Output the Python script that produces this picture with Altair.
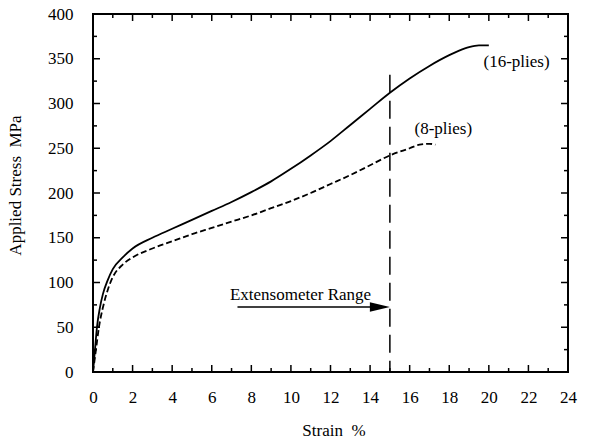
import altair as alt
import pandas as pd

# Tensile curves: strain (%) vs applied stress (MPa)
strain_16 = [0, 0.1, 0.2, 0.35, 0.5, 0.75, 1.0, 1.5, 2, 3, 4, 5, 6, 7, 8, 9, 10,
             11, 12, 13, 14, 15, 16, 17, 18, 18.5, 19, 19.5, 20]
stress_16 = [0, 25, 50, 72, 87, 103, 115, 128, 138, 150, 160, 170, 180, 190, 201,
             213, 227, 242, 258, 276, 294, 312, 328, 342, 354, 359, 363, 365, 365]

strain_8 = [0, 0.15, 0.3, 0.5, 0.75, 1.0, 1.5, 2, 3, 4, 5, 6, 7, 8, 9, 10, 11,
            12, 13, 14, 15, 16, 16.5, 17, 17.3]
stress_8 = [0, 25, 50, 72, 92, 106, 120, 128, 138, 146, 154, 161, 168, 175, 183,
            191, 200, 210, 220, 231, 242, 250, 254, 255, 254]

# Axis ticks
x_major = list(range(0, 25, 2))
x_minor = list(range(1, 24, 2))
y_major = list(range(0, 401, 50))
y_minor = list(range(25, 400, 50))

# Extensometer limit and annotation text
ext_limit = 15
ext_top = 332
arrow_start = 7.3
arrow_level = 72.6
notes_text = ["(16-plies)", "(8-plies)", "Extensometer Range"]
notes_x = [21.4, 17.7, 6.92]
notes_y = [341, 266, 80]
notes_align = ["center", "center", "left"]

FONT = "Liberation Serif"
W, H = 475, 358

xs = alt.Scale(domain=[0, 24], nice=False, zero=False)
ys = alt.Scale(domain=[0, 400], nice=False, zero=False)

df16 = pd.DataFrame({"strain": strain_16, "stress": stress_16})
df8 = pd.DataFrame({"strain": strain_8, "stress": stress_8})

x_axis = alt.Axis(values=x_major, ticks=False, domain=False, grid=False,
                  labelFont=FONT, labelFontSize=17, labelColor="black",
                  labelPadding=17, labelFlush=False,
                  title="Strain\u00a0\u00a0%", titleFont=FONT, titleFontSize=17,
                  titleFontWeight="normal", titleColor="black",
                  titleX=240.5, titleY=63, titleBaseline="alphabetic",
                  titleAlign="center")
y_axis = alt.Axis(values=y_major, ticks=False, domain=False, grid=False,
                  labelFont=FONT, labelFontSize=17, labelColor="black",
                  labelPadding=20, labelFlush=False,
                  title="Applied Stress\u00a0\u00a0MPa", titleFont=FONT,
                  titleFontSize=17, titleFontWeight="normal", titleColor="black",
                  titleAngle=270, titleX=-73, titleY=171,
                  titleBaseline="alphabetic", titleAlign="center")


def X(field):
    return alt.X(field, scale=xs, axis=x_axis)


def Y(field):
    return alt.Y(field, scale=ys, axis=y_axis)


line16 = alt.Chart(df16).mark_line(color="black", strokeWidth=1.8,
                                   interpolate="monotone").encode(
    x=X("strain:Q"), y=Y("stress:Q"))
line8 = alt.Chart(df8).mark_line(color="black", strokeWidth=1.8,
                                 strokeDash=[6, 3],
                                 interpolate="monotone").encode(
    x=X("strain:Q"), y=Y("stress:Q"))

ext_df = pd.DataFrame({"x": [ext_limit], "y": [ext_top], "y2": [0]})
ext_line = alt.Chart(ext_df).mark_rule(color="black", strokeWidth=1.5,
                                       strokeDash=[18, 8]).encode(
    x=X("x:Q"), y=Y("y:Q"), y2="y2:Q")

arrow_df = pd.DataFrame({"x": [arrow_start], "x2": [ext_limit - 0.5],
                         "y": [arrow_level]})
arrow_shaft = alt.Chart(arrow_df).mark_rule(color="black", strokeWidth=1.5).encode(
    x=X("x:Q"), x2="x2:Q", y=Y("y:Q"))
head_df = pd.DataFrame({"x": [ext_limit], "y": [arrow_level]})
arrow_head = alt.Chart(head_df).mark_point(
    shape="M-1,-0.24L0,0L-1,0.24Z", size=1600, filled=True, color="black",
    opacity=1, strokeWidth=0,
).encode(x=X("x:Q"), y=Y("y:Q"))

notes_df = pd.DataFrame({"t": notes_text, "x": notes_x, "y": notes_y,
                         "a": notes_align})
notes_center = alt.Chart(notes_df[notes_df.a == "center"]).mark_text(
    font=FONT, fontSize=17, color="black", align="center", baseline="alphabetic"
).encode(x=X("x:Q"), y=Y("y:Q"), text="t:N")
notes_left = alt.Chart(notes_df[notes_df.a == "left"]).mark_text(
    font=FONT, fontSize=17, color="black", align="left", baseline="alphabetic"
).encode(x=X("x:Q"), y=Y("y:Q"), text="t:N")


def x_ticks(values, length):
    d = pd.DataFrame({"v": values})
    bottom = alt.Chart(d).mark_rule(color="black", strokeWidth=1.5).encode(
        x=X("v:Q"), y=alt.value(H), y2=alt.value(H - length))
    top = alt.Chart(d).mark_rule(color="black", strokeWidth=1.5).encode(
        x=X("v:Q"), y=alt.value(0), y2=alt.value(length))
    return [bottom, top]


def y_ticks(values, length):
    d = pd.DataFrame({"v": values})
    left = alt.Chart(d).mark_rule(color="black", strokeWidth=1.5).encode(
        y=Y("v:Q"), x=alt.value(0), x2=alt.value(length))
    right = alt.Chart(d).mark_rule(color="black", strokeWidth=1.5).encode(
        y=Y("v:Q"), x=alt.value(W), x2=alt.value(W - length))
    return [left, right]


layers = [line16, line8, ext_line, arrow_shaft, arrow_head, notes_center,
          notes_left]
layers += x_ticks(x_major, 7) + x_ticks(x_minor, 4)
layers += y_ticks(y_major, 7) + y_ticks(y_minor, 4)

chart = alt.layer(*layers).properties(
    width=W, height=H,
    autosize=alt.AutoSizeParams(type="none"),
    padding={"left": 93, "top": 14, "right": 39, "bottom": 66},
    background="white",
).configure_view(stroke="black", strokeWidth=2)

chart.save("out.html", embed_options={"renderer": "svg", "actions": False})
